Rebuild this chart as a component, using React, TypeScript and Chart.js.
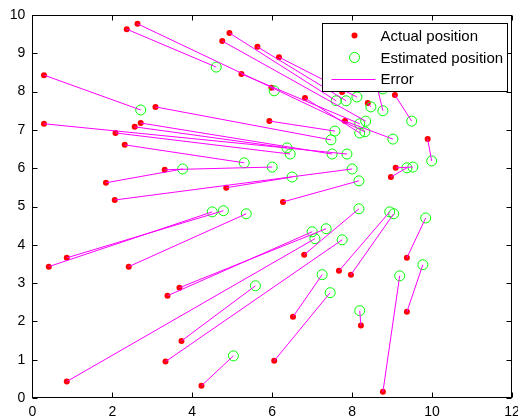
import { useEffect, useRef } from "react";
import { Chart, registerables } from "chart.js";

Chart.register(...registerables);

// Actual positions (red dots)
const actualX = [2.36, 2.63, 4.93, 4.75, 5.63, 6.17, 5.23, 5.98, 0.29, 6.82, 7.75, 8.57, 8.39, 9.07, 7.82, 9.89, 3.08, 0.29, 2.71, 2.56, 2.08, 5.93, 2.31, 3.31, 1.84, 2.06, 4.85, 6.27, 9.09, 8.97, 0.41, 0.86, 2.41, 3.68, 3.38, 0.86, 3.33, 3.73, 6.80, 7.67, 7.97, 9.37, 6.52, 9.37, 8.77, 8.22, 6.05, 4.23];
const actualY = [9.63, 9.77, 9.53, 9.32, 9.17, 8.90, 8.46, 8.10, 8.43, 7.83, 7.99, 8.36, 7.70, 7.91, 7.23, 6.76, 7.60, 7.16, 7.18, 7.08, 6.92, 7.23, 6.61, 5.96, 5.62, 5.17, 5.49, 5.12, 6.01, 5.77, 3.43, 3.66, 3.43, 2.88, 2.67, 0.43, 0.95, 1.49, 3.74, 3.32, 3.22, 3.66, 2.12, 2.25, 0.16, 1.89, 0.97, 0.32];
// Estimated positions (green circles)
const estX = [4.60, 8.32, 7.60, 8.34, 7.85, 8.12, 8.19, 6.05, 2.71, 8.19, 8.77, 8.77, 8.47, 9.49, 9.02, 9.99, 7.47, 7.87, 7.50, 6.37, 6.45, 7.57, 5.30, 6.00, 3.76, 8.00, 6.50, 8.17, 9.52, 9.37, 4.50, 4.78, 5.35, 7.35, 7.00, 7.07, 7.75, 5.58, 8.17, 8.94, 9.04, 9.84, 7.25, 9.77, 9.19, 8.19, 7.45, 5.03];
const estY = [8.64, 6.95, 7.76, 7.23, 7.76, 7.86, 7.16, 8.02, 7.52, 6.92, 8.07, 7.50, 7.60, 7.23, 6.76, 6.19, 6.74, 6.37, 6.37, 6.53, 6.37, 6.97, 6.14, 6.03, 5.98, 5.98, 5.77, 5.67, 6.03, 6.01, 4.86, 4.89, 4.81, 4.42, 4.34, 4.16, 4.13, 2.93, 4.94, 4.86, 4.81, 4.70, 3.22, 3.48, 3.19, 2.28, 2.75, 1.10];

const xTicks = [0, 2, 4, 6, 8, 10, 12];
const yTicks = [0, 1, 2, 3, 4, 5, 6, 7, 8, 9, 10];
const legendLabels = ["Actual position", "Estimated position", "Error"];

const FONT = '"Liberation Sans", Arial, Helvetica, sans-serif';

const framePlugin = {
  id: "frame",
  afterDatasetsDraw(chart: any) {
    const { ctx, chartArea: a, scales } = chart;
    ctx.save();
    ctx.strokeStyle = "#000";
    ctx.lineWidth = 1;
    const L = Math.round(a.left) + 0.5;
    const R = Math.round(a.right) - 0.5;
    const T = Math.round(a.top) + 0.5;
    const B = Math.round(a.bottom) - 0.5;
    ctx.strokeRect(L, T, R - L, B - T);
    const tl = 5;
    ctx.beginPath();
    for (const v of xTicks) {
      const px = Math.round(scales.x.getPixelForValue(v)) + 0.5;
      ctx.moveTo(px, B);
      ctx.lineTo(px, B - tl);
      ctx.moveTo(px, T);
      ctx.lineTo(px, T + tl);
    }
    for (const v of yTicks) {
      const py = Math.round(scales.y.getPixelForValue(v)) + 0.5;
      ctx.moveTo(L, py);
      ctx.lineTo(L + tl, py);
      ctx.moveTo(R, py);
      ctx.lineTo(R - tl, py);
    }
    ctx.stroke();

    // Legend box (inside axes, top right)
    const lw = 185;
    const lh = 68;
    const lx = Math.round(a.right - 5 - lw) + 0.5;
    const ly = Math.round(a.top + 8) + 0.5;
    ctx.fillStyle = "#fff";
    ctx.fillRect(lx, ly, lw, lh);
    ctx.strokeStyle = "#000";
    ctx.strokeRect(lx, ly, lw, lh);
    const rows = [ly + 12, ly + 34, ly + 55];
    const sx = lx + 32;
    ctx.fillStyle = "#ff0000";
    ctx.beginPath();
    ctx.arc(sx, rows[0], 3, 0, Math.PI * 2);
    ctx.fill();
    ctx.strokeStyle = "#00ff00";
    ctx.beginPath();
    ctx.arc(sx, rows[1], 5, 0, Math.PI * 2);
    ctx.stroke();
    ctx.strokeStyle = "#ff00ff";
    ctx.beginPath();
    ctx.moveTo(lx + 9, Math.round(rows[2]) + 0.5);
    ctx.lineTo(lx + 53, Math.round(rows[2]) + 0.5);
    ctx.stroke();
    ctx.fillStyle = "#000";
    ctx.font = `15px ${FONT}`;
    ctx.textBaseline = "middle";
    ctx.textAlign = "left";
    legendLabels.forEach((t, i) => ctx.fillText(t, lx + 58, rows[i] + 1));
    ctx.restore();
  },
};

export default function App() {
  const ref = useRef<HTMLCanvasElement>(null);
  useEffect(() => {
    const errData: any[] = [];
    const act: any[] = [];
    const est: any[] = [];
    for (let i = 0; i < actualX.length; i++) {
      errData.push({ x: actualX[i], y: actualY[i] });
      errData.push({ x: estX[i], y: estY[i] });
      errData.push({ x: estX[i], y: null });
      act.push({ x: actualX[i], y: actualY[i] });
      est.push({ x: estX[i], y: estY[i] });
    }
    const tickFont = { family: FONT, size: 14 };
    const chart = new Chart(ref.current!, {
      type: "line",
      data: {
        datasets: [
          {
            label: "Error",
            data: errData,
            borderColor: "#ff00ff",
            borderWidth: 1,
            pointRadius: 0,
            showLine: true,
            spanGaps: false,
            fill: false,
            order: 0,
          },
          {
            label: "Estimated position",
            data: est,
            showLine: false,
            pointRadius: 5,
            pointBorderColor: "#00ff00",
            pointBackgroundColor: "rgba(0,0,0,0)",
            pointBorderWidth: 1,
            order: 1,
          },
          {
            label: "Actual position",
            data: act,
            showLine: false,
            pointRadius: 3,
            pointBorderColor: "#ff0000",
            pointBackgroundColor: "#ff0000",
            pointBorderWidth: 0,
            order: 2,
          },
        ] as any,
      },
      options: {
        animation: false,
        responsive: false,
        events: [],
        layout: { padding: { left: 0, top: 15, right: 4, bottom: 0 } },
        plugins: { legend: { display: false }, tooltip: { enabled: false } },
        scales: {
          x: {
            type: "linear",
            min: 0,
            max: 12,
            afterBuildTicks: (s: any) => {
              s.ticks = xTicks.map((v) => ({ value: v }));
            },
            afterFit: (s: any) => {
              s.height = 19;
              s.paddingLeft = 0;
              s.paddingRight = 0;
            },
            grid: { display: false, drawTicks: false },
            border: { display: false },
            ticks: { padding: 6, color: "#000", font: tickFont, autoSkip: false, maxRotation: 0 },
          },
          y: {
            type: "linear",
            min: 0,
            max: 10,
            afterBuildTicks: (s: any) => {
              s.ticks = yTicks.map((v) => ({ value: v }));
            },
            afterFit: (s: any) => {
              s.width = 32.4;
              s.paddingTop = 0;
              s.paddingBottom = 0;
            },
            grid: { display: false, drawTicks: false },
            border: { display: false },
            ticks: { padding: 7, color: "#000", font: tickFont, autoSkip: false },
          },
        },
      } as any,
      plugins: [framePlugin],
    });
    return () => chart.destroy();
  }, []);
  return (
    <div style={{ position: "fixed", left: 0, top: 0, width: 518, height: 417, background: "#fff" }}>
      <canvas ref={ref} width={518} height={417} style={{ display: "block" }} />
    </div>
  );
}
